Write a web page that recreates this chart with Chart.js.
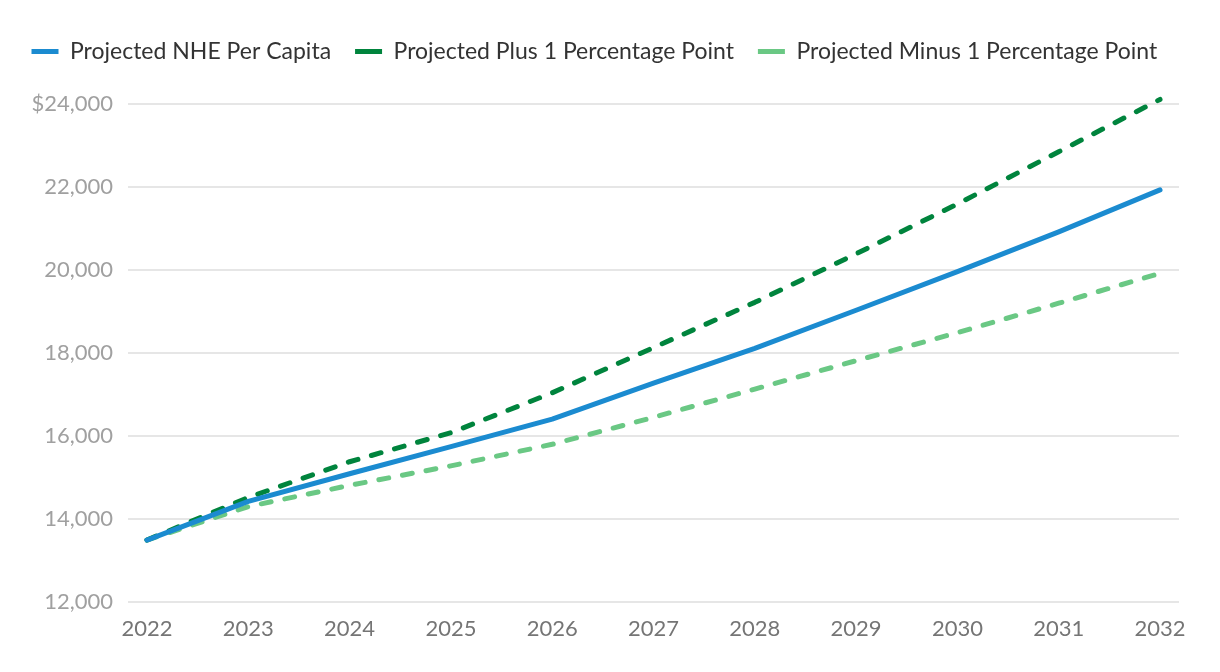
<!DOCTYPE html>
<html>
<head>
<meta charset="utf-8">
<script src="https://cdn.jsdelivr.net/npm/chart.js@4"></script>
<style>
  html, body { margin: 0; padding: 0; background: #ffffff; }
  canvas { display: block; }
</style>
</head>
<body>
<canvas id="c" width="1220" height="672"></canvas>
<script>
// ---- data ----
const years = [2022, 2023, 2024, 2025, 2026, 2027, 2028, 2029, 2030, 2031, 2032];
const projectedNHE = [13493, 14423, 15090, 15745, 16405, 17275, 18110, 19030, 19960, 20920, 21930];
const projectedPlus1 = [13493, 14520, 15380, 16080, 17040, 18130, 19220, 20390, 21590, 22850, 24110];
const projectedMinus1 = [13493, 14300, 14810, 15280, 15800, 16450, 17130, 17815, 18490, 19200, 19920];
const seriesNames = ['Projected NHE Per Capita', 'Projected Plus 1 Percentage Point', 'Projected Minus 1 Percentage Point'];
const yTickValues = [12000, 14000, 16000, 18000, 20000, 22000, 24000];
const yTickLabels = ['12,000', '14,000', '16,000', '18,000', '20,000', '22,000', '$24,000'];
const xTickLabels = ['2022', '2023', '2024', '2025', '2026', '2027', '2028', '2029', '2030', '2031', '2032'];

const FONT = 'Lato, "Open Sans", sans-serif';

function pts(values) {
  return years.map((y, i) => ({ x: y, y: values[i] }));
}

const legendSpacer = {
  id: 'legendSpacer',
  beforeInit(chart) {
    const lg = chart.legend;
    if (!lg) return;
    const origFit = lg.fit;
    lg.fit = function () {
      this.maxWidth = 1400;
      origFit.call(this);
      this.width = chart.width;
      this.height += 31;
    };
  },
  afterLayout(chart) {
    const lg = chart.legend;
    if (!lg) return;
    lg.right = chart.width + 60;
    lg.width = lg.right - lg.left;
  }
};

function lineDataset(i, values, color, dash) {
  return {
    label: seriesNames[i],
    data: pts(values),
    borderColor: color,
    backgroundColor: color,
    borderWidth: 5,
    borderDash: dash,
    borderCapStyle: 'round',
    borderJoinStyle: 'round',
    pointRadius: 0,
    pointStyle: 'line',
    tension: 0,
    clip: false
  };
}

new Chart(document.getElementById('c'), {
  type: 'line',
  data: {
    datasets: [
      lineDataset(0, projectedNHE, '#1b8bd0', []),
      lineDataset(1, projectedPlus1, '#00843d', [10, 14]),
      lineDataset(2, projectedMinus1, '#6ac884', [10, 14])
    ]
  },
  plugins: [legendSpacer],
  options: {
    responsive: false,
    animation: false,
    devicePixelRatio: 1,
    layout: { padding: { left: 7.5, right: 41, top: 16, bottom: 0 } },
    plugins: {
      tooltip: { enabled: false },
      legend: {
        position: 'top',
        align: 'start',
        labels: {
          usePointStyle: true,
          pointStyleWidth: 27,
          boxHeight: 23,
          padding: 24,
          color: '#333333',
          font: { family: FONT, size: 23 }
        }
      }
    },
    scales: {
      x: {
        type: 'linear',
        min: 2021.8125,
        max: 2032.1875,
        afterBuildTicks(scale) {
          scale.ticks = years.map(v => ({ value: v }));
        },
        afterFit(scale) { scale.height = 70; },
        grid: { display: false, drawTicks: false },
        border: { display: false },
        ticks: {
          color: '#757575',
          padding: 14,
          maxRotation: 0,
          autoSkip: false,
          font: { family: FONT, size: 22 },
          callback(value) {
            const i = years.indexOf(value);
            return i >= 0 ? xTickLabels[i] : '';
          }
        }
      },
      y: {
        min: 12000,
        max: 24000,
        afterBuildTicks(scale) {
          scale.ticks = yTickValues.map(v => ({ value: v }));
        },
        afterFit(scale) { scale.width = 120.5; },
        grid: { color: '#e6e6e6', lineWidth: 2, drawTicks: false },
        border: { display: false },
        ticks: {
          color: '#a0a0a0',
          padding: 15,
          font: { family: FONT, size: 22 },
          callback(value) {
            const i = yTickValues.indexOf(value);
            return i >= 0 ? yTickLabels[i] : '';
          }
        }
      }
    }
  }
});
</script>
</body>
</html>
